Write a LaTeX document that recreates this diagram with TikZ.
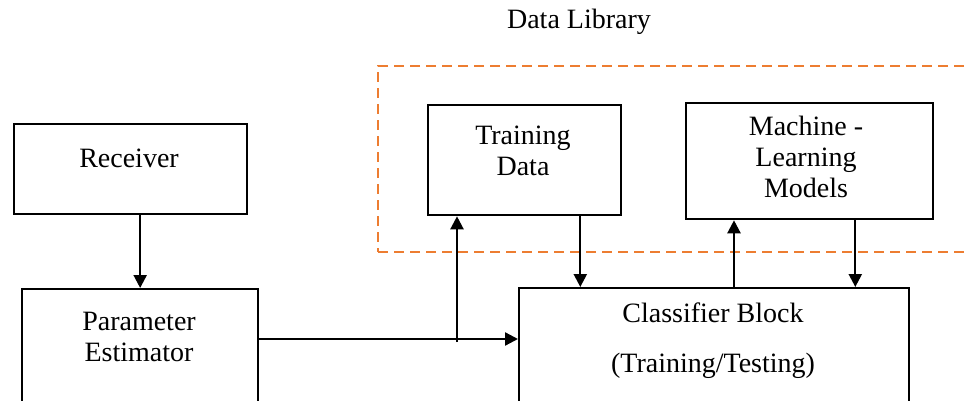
\documentclass[tikz,border=0pt]{standalone}
\usepackage{fontspec}
\setmainfont{Liberation Serif}
\usepackage{xcolor}
\usepackage{tikz}
\usetikzlibrary{arrows.meta}

\definecolor{liborange}{RGB}{237,125,49}

\begin{document}
\begin{tikzpicture}[x=1pt, y=-1pt,
    every node/.style={font=\fontsize{28}{31}\selectfont, align=center},
    blk/.style={draw, line width=2.3pt, inner sep=0pt},
    arr/.style={line width=2.3pt, -{Triangle[length=13pt,width=13pt]}}]
    \useasboundingbox (0,0) rectangle (969,401);
    \clip (0,0) rectangle (969,401);
    % data library frame
    \node[draw=liborange, line width=2.3pt, dash pattern=on 10pt off 6pt,
          minimum width=640pt, minimum height=186pt, inner sep=0pt, anchor=north west] (lib) at (377,65) {};
    \node (libtxt) at (579,22) {Data Library};
    % blocks
    \node[blk, minimum width=233pt, minimum height=90pt, anchor=north west] (recv) at (13,123) {};
    \node (recvtxt) at (129,158) {Receiver};
    \node[blk, minimum width=236pt, minimum height=160pt, anchor=north west] (pe) at (21,288) {};
    \node (petxt) at (139,337) {Parameter\\Estimator};
    \node[blk, minimum width=193pt, minimum height=110pt, anchor=north west] (tdata) at (427,104) {};
    \node (tdatatxt) at (523,151) {Training\\Data};
    \node[blk, minimum width=247pt, minimum height=116pt, anchor=north west] (mlm) at (685,102) {};
    \node (mlmtxt) at (806,157) {Machine -\\Learning\\Models};
    \node[blk, minimum width=390pt, minimum height=160pt, anchor=north west] (cls) at (518,287) {};
    \node (clstxt) at (713,341) {Classifier Block\\[19pt](Training/Testing)};
    % connectors
    \coordinate (split) at (457,339);
    \draw[arr] (recv.south -| pe.north) -- (pe.north);
    \draw[arr] (pe.east |- split) -- (cls.west |- split);
    \draw[arr] ([yshift=-3pt]split) -- (tdata.south -| split);
    \draw[arr] ([xshift=-42pt]tdata.south east) -- ([xshift=-42pt]tdata.south east |- cls.north);
    \draw[arr] ([xshift=49pt]mlm.south west |- cls.north) -- ([xshift=49pt]mlm.south west);
    \draw[arr] ([xshift=-79pt]mlm.south east) -- ([xshift=-79pt]mlm.south east |- cls.north);
\end{tikzpicture}
\end{document}
